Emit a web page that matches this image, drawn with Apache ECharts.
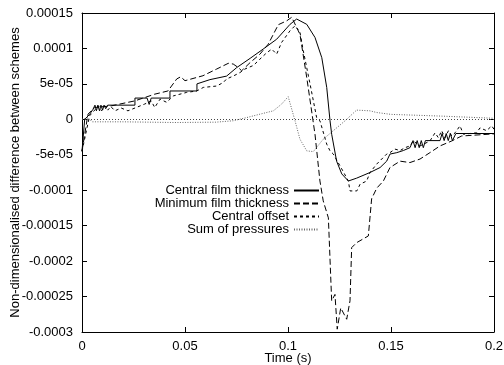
<!DOCTYPE html>
<html>
<head>
<meta charset="utf-8">
<script src="https://cdn.jsdelivr.net/npm/echarts@6/dist/echarts.min.js"></script>
<style>
  html, body { margin: 0; padding: 0; background: #fff; }
  #chart { width: 504px; height: 365px; }
</style>
</head>
<body>
<div id="chart"></div>
<script>
// series names
var seriesNames = ["Central film thickness", "Minimum film thickness", "Central offset", "Sum of pressures"];

// tick labels (bottom to top for y)
var xTickLabels = ["0", "0.05", "0.1", "0.15", "0.2"];
var yTickLabels = ["-0.0003", "-0.00025", "-0.0002", "-0.00015", "-0.0001", "-5e-05", "0", "5e-05", "0.0001", "0.00015"];

// [time, difference] pairs
var centralFilm = [
  [0, -4.5e-5], [0.0013, 0], [0.0037, 7e-6], [0.0053, 1.4e-5], [0.0063, 2e-5], [0.007, 1.2e-5],
  [0.0077, 2e-5], [0.0085, 1.2e-5], [0.0092, 2e-5], [0.01, 1.3e-5], [0.0107, 2e-5], [0.0115, 1.5e-5],
  [0.0125, 2e-5], [0.0257, 2e-5], [0.0257, 3e-5], [0.0316, 3e-5], [0.0326, 2.1e-5], [0.0336, 3e-5],
  [0.0427, 3e-5], [0.0427, 4e-5], [0.0558, 4e-5], [0.0558, 5e-5], [0.0621, 5.6e-5], [0.0702, 6.1e-5],
  [0.0751, 7.3e-5], [0.0816, 8.6e-5], [0.0879, 9.9e-5], [0.0945, 1.13e-4], [0.101, 1.34e-4],
  [0.1042, 1.415e-4], [0.1091, 1.34e-4], [0.1131, 1.155e-4], [0.1164, 8.7e-5], [0.1188, 4.5e-5],
  [0.1204, -2e-6], [0.1212, -2.1e-5], [0.1236, -5.9e-5], [0.1261, -7.7e-5], [0.1293, -8.7e-5],
  [0.1333, -8.3e-5], [0.1398, -7.5e-5], [0.1447, -6.8e-5], [0.1479, -5.9e-5], [0.1495, -4.9e-5],
  [0.1528, -4.7e-5], [0.156, -4.4e-5], [0.1592, -4e-5], [0.1607, -3e-5], [0.1617, -4e-5],
  [0.1627, -3e-5], [0.1637, -4e-5], [0.1647, -3e-5], [0.1657, -4e-5], [0.1667, -3e-5],
  [0.1738, -3e-5], [0.1748, -2e-5], [0.1758, -3e-5], [0.1768, -2e-5], [0.1778, -3e-5],
  [0.1788, -2e-5], [0.1798, -3e-5], [0.1815, -2e-5], [0.2, -2e-5]
];

var minimumFilm = [
  [0, -4.5e-5], [0.0029, 7.3e-6], [0.0062, 1.67e-5], [0.0142, 1.9e-5], [0.0256, 2.6e-5],
  [0.0353, 3.55e-5], [0.0417, 4e-5], [0.046, 5.7e-5], [0.0479, 6e-5], [0.05, 5.45e-5],
  [0.0587, 6.15e-5], [0.0654, 7.1e-5], [0.071, 7.9e-5], [0.0734, 7.8e-5], [0.0759, 7.3e-5],
  [0.0775, 6.85e-5], [0.0816, 8e-5], [0.0864, 9.2e-5], [0.0904, 1.06e-4], [0.0929, 1.2e-4],
  [0.0953, 1.335e-4], [0.0994, 1.39e-4], [0.1018, 1.44e-4], [0.1058, 1.2e-4], [0.1091, 5.9e-5],
  [0.1131, -2.1e-5], [0.1155, -8.7e-5], [0.1171, -1.15e-4], [0.1196, -1.39e-4], [0.1212, -2.56e-4],
  [0.1228, -2.47e-4], [0.1239, -2.96e-4], [0.1256, -2.66e-4], [0.1285, -2.82e-4], [0.1301, -2.56e-4],
  [0.1309, -1.81e-4], [0.1333, -1.74e-4], [0.139, -1.645e-4], [0.1406, -1.12e-4], [0.1431, -9.7e-5],
  [0.1463, -8.7e-5], [0.1495, -6.8e-5], [0.1544, -5.9e-5], [0.1592, -6.1e-5], [0.1641, -5.6e-5],
  [0.1689, -4.7e-5], [0.1738, -3.75e-5], [0.1795, -3.05e-5], [0.1843, -2.35e-5], [0.2, -2.05e-5]
];

var centralOffset = [
  [0, -4.5e-5], [0.0037, 5e-6], [0.008, 1.9e-5], [0.0095, 1.2e-5], [0.011, 1.9e-5], [0.0125, 1.3e-5],
  [0.014, 1.8e-5], [0.016, 1.2e-5], [0.019, 1.6e-5], [0.0223, 1.2e-5], [0.0304, 2.15e-5],
  [0.0336, 2.6e-5], [0.0353, 1.67e-5], [0.0379, 2.85e-5], [0.0411, 2.4e-5], [0.0443, 3.3e-5],
  [0.0508, 3.8e-5], [0.0557, 4e-5], [0.0589, 4.5e-5], [0.0654, 4.7e-5], [0.0686, 5.2e-5],
  [0.0702, 5.7e-5], [0.0734, 6.1e-5], [0.0767, 6.6e-5], [0.0791, 7.1e-5], [0.0832, 7.6e-5],
  [0.0864, 8.5e-5], [0.0897, 9.4e-5], [0.0921, 9.9e-5], [0.0945, 9.2e-5], [0.0969, 1.085e-4],
  [0.101, 1.25e-4], [0.1034, 1.32e-4], [0.1058, 1.23e-4], [0.1074, 9.7e-5], [0.1107, 5e-5],
  [0.1139, 2.5e-6], [0.1155, -2e-6], [0.1188, -3.5e-5], [0.1204, -4.45e-5], [0.122, -4.9e-5],
  [0.1261, -7e-5], [0.1293, -8.7e-5], [0.1301, -1.01e-4], [0.1334, -1.01e-4], [0.135, -9.15e-5],
  [0.1382, -8.7e-5], [0.1398, -7.5e-5], [0.1431, -6.3e-5], [0.1479, -4.9e-5], [0.1495, -4.7e-5],
  [0.1519, -4.2e-5], [0.1544, -4.4e-5], [0.1568, -4e-5], [0.1592, -3.75e-5], [0.1608, -3.05e-5],
  [0.1641, -3.75e-5], [0.1689, -3.05e-5], [0.1714, -1.9e-5], [0.173, -2.6e-5], [0.1746, -1.6e-5],
  [0.1762, -2.6e-5], [0.1779, -1.6e-5], [0.1795, -2.35e-5], [0.1811, -1.9e-5], [0.1835, -9.2e-6],
  [0.1851, -2.1e-5], [0.1916, -1.9e-5], [0.1932, -1.2e-5], [0.1964, -1.6e-5], [0.1989, -9.2e-6],
  [0.2, -1.4e-5]
];

var sumPressures = [
  [0, 0], [0.0029, 2.5e-6], [0.0049, -3.5e-6], [0.02, -3.5e-6], [0.045, -4.5e-6], [0.065, -4e-6],
  [0.0734, -2e-6], [0.08, 2.5e-6], [0.0864, 7.3e-6], [0.0929, 1.2e-5], [0.0969, 2.15e-5],
  [0.1001, 3.2e-5], [0.1034, -2e-6], [0.1058, -2.8e-5], [0.1091, -4.45e-5], [0.1123, -4.55e-5],
  [0.1171, -2.8e-5], [0.122, -1.6e-5], [0.1277, -2e-6], [0.1333, 1.3e-5], [0.1398, 1.2e-5],
  [0.1431, 9.6e-6], [0.15, 7e-6], [0.175, 4.5e-6], [0.2, 1.5e-6]
];

var FONT = "Liberation Sans";
var chart = echarts.init(document.getElementById("chart"));

var legendRows = [184, 197, 210, 223];
var legends = seriesNames.map(function (name, i) {
  return {
    data: [name],
    right: 184,
    top: legendRows[i],
    padding: 0,
    align: "right",
    itemWidth: 25,
    itemHeight: 13,
    selectedMode: false,
    itemStyle: { opacity: 0 },
    textStyle: { fontFamily: FONT, fontSize: 13, color: "#000" }
  };
});

function lineSeries(name, data, color, type) {
  return {
    name: name,
    type: "line",
    data: data,
    showSymbol: false,
    symbol: "none",
    animation: false,
    lineStyle: { color: color, width: 1, type: type },
    itemStyle: { color: color }
  };
}

var series = [
  lineSeries(seriesNames[0], centralFilm, "#000", "solid"),
  lineSeries(seriesNames[1], minimumFilm, "#000", [6, 3]),
  lineSeries(seriesNames[2], centralOffset, "#000", [3, 3]),
  lineSeries(seriesNames[3], sumPressures, "#666", [1, 1.5])
];
// zero axis, dotted
series[3].markLine = {
  silent: true,
  symbol: "none",
  label: { show: false },
  lineStyle: { color: "#444", width: 1, type: [1, 2] },
  data: [{ yAxis: 0 }]
};

chart.setOption({
  animation: false,
  backgroundColor: "#fff",
  grid: { left: 82, right: 10, top: 13, bottom: 33, outerBoundsMode: "none", containLabel: false },
  legend: legends,
  xAxis: [
    {
      type: "value", min: 0, max: 0.2, interval: 0.05, position: "bottom",
      name: "Time (s)", nameLocation: "middle", nameGap: 20, nameMoveOverlap: false,
      nameTextStyle: { fontFamily: FONT, fontSize: 13, color: "#000" },
      axisLine: { onZero: false, lineStyle: { color: "#000", width: 1 } },
      axisTick: { inside: true, length: 5, lineStyle: { color: "#000" } },
      axisLabel: {
        fontFamily: FONT, fontSize: 13, color: "#000", margin: 8,
        formatter: function (v, i) { return xTickLabels[i]; }
      },
      splitLine: { show: false }
    },
    {
      type: "value", min: 0, max: 0.2, interval: 0.05, position: "top",
      axisLine: { onZero: false, lineStyle: { color: "#000", width: 1 } },
      axisTick: { inside: true, length: 5, lineStyle: { color: "#000" } },
      axisLabel: { show: false },
      splitLine: { show: false }
    }
  ],
  yAxis: [
    {
      type: "value", min: -0.0003, max: 0.00015, interval: 0.00005, position: "left",
      name: "Non-dimensionalised difference between schemes",
      nameLocation: "middle", nameGap: 60, nameMoveOverlap: false,
      nameTextStyle: { fontFamily: FONT, fontSize: 13, color: "#000" },
      axisLine: { show: true, onZero: false, lineStyle: { color: "#000", width: 1 } },
      axisTick: { show: true, inside: true, length: 5, lineStyle: { color: "#000" } },
      axisLabel: {
        fontFamily: FONT, fontSize: 13, color: "#000", margin: 9,
        formatter: function (v, i) { return yTickLabels[i]; }
      },
      splitLine: { show: false }
    },
    {
      type: "value", min: -0.0003, max: 0.00015, interval: 0.00005, position: "right",
      axisLine: { show: true, onZero: false, lineStyle: { color: "#000", width: 1 } },
      axisTick: { show: true, inside: true, length: 5, lineStyle: { color: "#000" } },
      axisLabel: { show: false },
      splitLine: { show: false }
    }
  ],
  series: series
});
</script>
</body>
</html>
